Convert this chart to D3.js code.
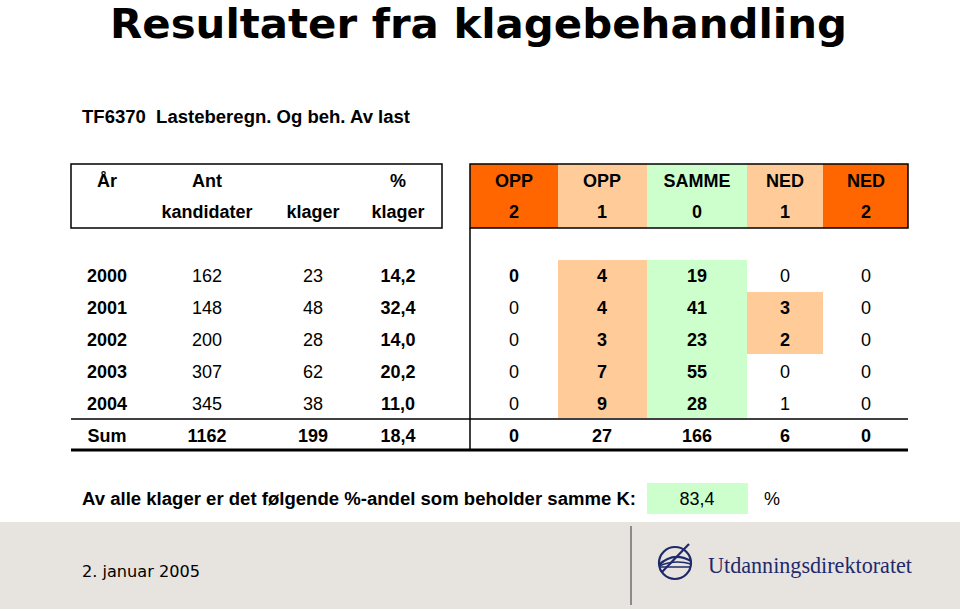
<!DOCTYPE html>
<html><head><meta charset="utf-8">
<script src="https://cdn.jsdelivr.net/npm/d3@7"></script>
<style>body{margin:0;background:#fff}svg{display:block}text{white-space:pre}</style>
</head><body>
<script>
// ---- data ----
const title = "Resultater fra klagebehandling";
const subtitle = "TF6370  Lasteberegn. Og beh. Av last";
const headTop = ["År", "Ant", "", "%", "OPP", "OPP", "SAMME", "NED", "NED"];
const headBottom = ["", "kandidater", "klager", "klager", "2", "1", "0", "1", "2"];
const years = ["2000", "2001", "2002", "2003", "2004"];
const kandidater = [162, 148, 200, 307, 345];
const klager = [23, 48, 28, 62, 38];
const pctKlager = ["14,2", "32,4", "14,0", "20,2", "11,0"];
const opp2 = [0, 0, 0, 0, 0];
const opp1 = [4, 4, 3, 7, 9];
const samme = [19, 41, 23, 55, 28];
const ned1 = [0, 3, 2, 0, 1];
const ned2 = [0, 0, 0, 0, 0];
const sumRow = ["Sum", "1162", "199", "18,4", "0", "27", "166", "6", "0"];
const noteText = "Av alle klager er det følgende %-andel som beholder samme K:";
const noteValue = "83,4";
const noteUnit = "%";
const dateText = "2. januar 2005";
const orgName = "Utdanningsdirektoratet";

// ---- layout / style ----
const W = 960, H = 611;
const ORANGE = "#FF6600", PEACH = "#FFCC99", GREEN = "#CCFFCC";
const colKeys = d3.range(9);
const x = d3.scaleOrdinal().domain(colKeys).range([107, 207, 313, 398, 514, 602, 697, 785, 866]);
const colEdges = [470, 558, 647, 747, 823, 908]; // colored columns 4..8
const colFill = [ORANGE, PEACH, GREEN, PEACH, ORANGE];
const rowKeys = years.concat(["Sum"]);
const y = d3.scaleBand().domain(rowKeys).range([260, 452]);
const boldCols = new Set([0, 3, 5, 6]);
const boldCells = new Set(["4-0", "7-1", "7-2"]);
const font = "'Liberation Sans', Arial, sans-serif";

const svg = d3.select("body").append("svg").attr("width", W).attr("height", H);

svg.append("text").attr("x", 110).attr("y", 38)
  .attr("font-family", "'DejaVu Sans', Verdana, sans-serif").attr("font-weight", "bold")
  .attr("font-size", 40).attr("textLength", 737).attr("lengthAdjust", "spacingAndGlyphs")
  .text(title);

svg.append("text").attr("x", 82).attr("y", 123)
  .attr("font-family", font).attr("font-weight", "bold").attr("font-size", 18)
  .attr("textLength", 328).attr("lengthAdjust", "spacingAndGlyphs")
  .text(subtitle);

// header colored cells
svg.append("g").selectAll("rect").data(colFill).join("rect")
  .attr("x", (d, i) => colEdges[i]).attr("y", 164)
  .attr("width", (d, i) => colEdges[i + 1] - colEdges[i]).attr("height", 64)
  .attr("fill", d => d);

// body colored cells (rows 2000-2004 for OPP1 and SAMME; 2001-2002 NED1)
const bodyFills = [
  {c: 1, from: 0, to: 4, fill: PEACH},
  {c: 2, from: 0, to: 4, fill: GREEN},
  {c: 3, from: 1, to: 2, fill: PEACH}
];
svg.append("g").selectAll("rect").data(bodyFills).join("rect")
  .attr("x", d => colEdges[d.c]).attr("width", d => colEdges[d.c + 1] - colEdges[d.c])
  .attr("y", d => y(years[d.from]))
  .attr("height", d => y(years[d.to]) + y.bandwidth() - y(years[d.from]) - 2)
  .attr("fill", d => d.fill);

// header boxes
svg.append("rect").attr("x", 71).attr("y", 164).attr("width", 371).attr("height", 64)
  .attr("fill", "none").attr("stroke", "#000").attr("stroke-width", 1.5);
svg.append("rect").attr("x", 470).attr("y", 164).attr("width", 438).attr("height", 64)
  .attr("fill", "none").attr("stroke", "#000").attr("stroke-width", 1.5);
svg.append("line").attr("x1", 470).attr("x2", 470).attr("y1", 228).attr("y2", 450)
  .attr("stroke", "#000").attr("stroke-width", 1.5);
svg.append("line").attr("x1", 71).attr("x2", 908).attr("y1", y("Sum") - 1).attr("y2", y("Sum") - 1)
  .attr("stroke", "#000").attr("stroke-width", 1.5);
svg.append("line").attr("x1", 71).attr("x2", 908).attr("y1", 450).attr("y2", 450)
  .attr("stroke", "#000").attr("stroke-width", 3);

// header text
const hdr = svg.append("g").attr("font-family", font).attr("font-weight", "bold")
  .attr("font-size", 18).attr("text-anchor", "middle");
hdr.selectAll("text.t").data(headTop).join("text").attr("class", "t")
  .attr("x", (d, i) => x(i)).attr("y", 181).attr("dy", "0.35em").text(d => d);
hdr.selectAll("text.b").data(headBottom).join("text").attr("class", "b")
  .attr("x", (d, i) => x(i)).attr("y", 212).attr("dy", "0.35em").text(d => d);

// body text
const cols = [years, kandidater, klager, pctKlager, opp2, opp1, samme, ned1, ned2];
const cells = [];
cols.forEach((col, c) => col.forEach((v, r) => cells.push({c, r, v})));
const body = svg.append("g").attr("font-family", font).attr("font-size", 18).attr("text-anchor", "middle");
body.selectAll("text.cell").data(cells).join("text").attr("class", "cell")
  .attr("x", d => x(d.c)).attr("y", d => y(years[d.r]) + y.bandwidth() / 2).attr("dy", "0.35em")
  .attr("font-weight", d => (boldCols.has(d.c) || boldCells.has(d.c + "-" + d.r)) ? "bold" : "normal")
  .text(d => d.v);
body.selectAll("text.sum").data(sumRow).join("text").attr("class", "sum")
  .attr("x", (d, i) => x(i)).attr("y", y("Sum") + y.bandwidth() / 2).attr("dy", "0.35em")
  .attr("font-weight", "bold").text(d => d);

// note line
svg.append("text").attr("x", 82).attr("y", 505)
  .attr("font-family", font).attr("font-weight", "bold").attr("font-size", 18)
  .attr("textLength", 554).attr("lengthAdjust", "spacingAndGlyphs").text(noteText);
svg.append("rect").attr("x", 647).attr("y", 483).attr("width", 101).attr("height", 31).attr("fill", GREEN);
svg.append("text").attr("x", 697).attr("y", 505).attr("text-anchor", "middle")
  .attr("font-family", font).attr("font-size", 18).attr("font-weight", 500).text(noteValue);
svg.append("text").attr("x", 764).attr("y", 505)
  .attr("font-family", font).attr("font-size", 18).text(noteUnit);

// footer band
svg.append("rect").attr("x", 0).attr("y", 522).attr("width", W).attr("height", 87).attr("fill", "#E7E3DF");
svg.append("line").attr("x1", 631).attr("x2", 631).attr("y1", 526).attr("y2", 605)
  .attr("stroke", "#333").attr("stroke-width", 1);
svg.append("text").attr("x", 82).attr("y", 577)
  .attr("font-family", "'DejaVu Sans', Verdana, sans-serif").attr("font-size", 16)
  .attr("textLength", 118).attr("lengthAdjust", "spacingAndGlyphs").text(dateText);

// logo
const logo = svg.append("g").attr("transform", "translate(675,563)")
  .attr("fill", "none").attr("stroke", "#1F2A6B").attr("stroke-width", 2.2);
logo.append("circle").attr("r", 16);
logo.append("line").attr("x1", -13).attr("y1", 9).attr("x2", 14).attr("y2", -19);
logo.append("path").attr("d", "M-16,2 Q-2,-12 16,-2");
logo.append("path").attr("d", "M-16,3 Q0,-4 16,1").attr("stroke-width", 1.5);
logo.append("path").attr("d", "M-15,4 L16,4").attr("stroke-width", 1.5);
svg.append("text").attr("x", 708).attr("y", 573)
  .attr("font-family", "'Liberation Serif', 'DejaVu Serif', serif").attr("font-size", 24)
  .attr("fill", "#1F2A6B").attr("textLength", 204).attr("lengthAdjust", "spacingAndGlyphs")
  .text(orgName);
</script>
</body></html>
